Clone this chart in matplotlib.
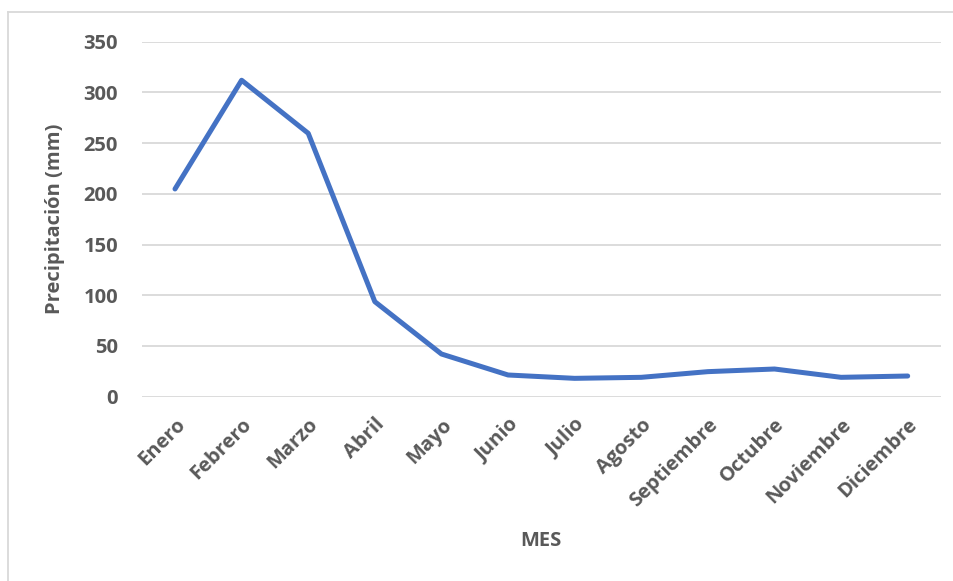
import matplotlib
matplotlib.use("Agg")
import matplotlib.pyplot as plt
from matplotlib.lines import Line2D

# Data
meses = ["Enero", "Febrero", "Marzo", "Abril", "Mayo", "Junio", "Julio",
         "Agosto", "Septiembre", "Octubre", "Noviembre", "Diciembre"]
precipitacion = [204.8, 312.0, 259.7, 93.7, 42.1, 21.4, 18.1,
                 19.1, 24.7, 27.3, 19.1, 20.4]
yticks = [0, 50, 100, 150, 200, 250, 300, 350]

text_color = "#595959"
grid_color = "#D9D9D9"
line_color = "#4472C4"

plt.rcParams['font.family'] = ['Open Sans', 'DejaVu Sans']

fig = plt.figure(figsize=(9.54, 5.81), dpi=100)
ax = fig.add_axes([141.7 / 954, 1 - 396.7 / 581, (941 - 141.7) / 954, (396.7 - 41.7) / 581])

x = list(range(len(meses)))
ax.plot(x, precipitacion, color=line_color, linewidth=3.6,
        solid_capstyle='round', solid_joinstyle='round', zorder=3)

ax.set_xlim(-0.5, len(meses) - 0.5)
ax.set_ylim(0, 350)
ax.set_yticks(yticks)
ax.set_yticklabels([str(v) for v in yticks], fontsize=14.5, fontweight='bold', color=text_color)
ax.set_xticks(x)
ax.set_xticklabels(meses, rotation=45, ha='right', rotation_mode='anchor',
                   fontsize=14.5, fontweight='bold', color=text_color)
ax.tick_params(axis='both', length=0)
ax.tick_params(axis='y', pad=17)
ax.tick_params(axis='x', pad=13)

ax.grid(axis='y', color=grid_color, linewidth=1.3)
ax.set_axisbelow(True)
for s in ax.spines.values():
    s.set_visible(False)

ax.set_ylabel("Precipitación (mm)", fontsize=14.5, fontweight='bold', color=text_color, labelpad=13)
fig.text(541 / 954, 1 - 541 / 581, "MES", ha='center', va='center',
         fontsize=14.5, fontweight='bold', color=text_color)

# chart frame edges
fig.add_artist(Line2D([8 / 954, 1.0], [1 - 12 / 581, 1 - 12 / 581],
                      transform=fig.transFigure, color="#D9D9D9", linewidth=1.3))
fig.add_artist(Line2D([8 / 954, 8 / 954], [0, 1 - 12 / 581],
                      transform=fig.transFigure, color="#D9D9D9", linewidth=1.3))

fig.savefig("out.png", dpi=100)
